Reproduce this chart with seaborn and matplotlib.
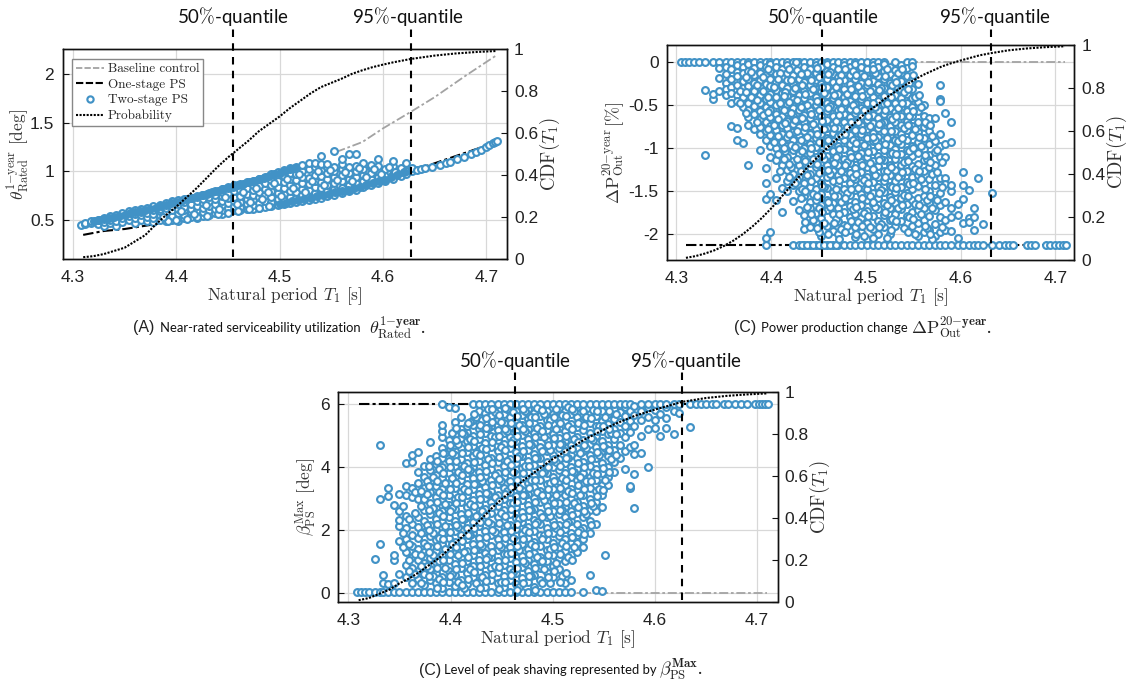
import matplotlib
matplotlib.use("Agg")
import matplotlib.pyplot as plt
import pandas as pd
import seaborn as sns

# Curvas
cdf_a_x = [4.31, 4.32, 4.33, 4.34, 4.35, 4.36, 4.37, 4.38, 4.39, 4.40, 4.41, 4.42, 4.43, 4.44, 4.45, 4.455, 4.46, 4.47, 4.48,
           4.49, 4.50, 4.51, 4.52, 4.53, 4.54, 4.55, 4.56, 4.57, 4.58, 4.59, 4.60, 4.61, 4.627, 4.65, 4.67, 4.69, 4.71]
cdf_a_y = [.01, .015, .025, .04, .055, .085, .115, .165, .21, .25, .295, .34, .39, .44, .485, .505, .525, .565, .61,
           .645, .68, .72, .755, .79, .82, .84, .86, .883, .90, .915, .927, .938, .954, .97, .98, .987, .992]
cdf_b_x = [4.31, 4.32, 4.33, 4.34, 4.35, 4.36, 4.37, 4.38, 4.39, 4.40, 4.41, 4.42, 4.43, 4.44, 4.454, 4.46, 4.47, 4.48, 4.49,
           4.50, 4.51, 4.52, 4.53, 4.54, 4.55, 4.56, 4.57, 4.58, 4.59, 4.60, 4.62, 4.632, 4.65, 4.67, 4.69, 4.71]
cdf_b_y = [.01, .018, .03, .045, .065, .09, .12, .155, .195, .24, .29, .34, .39, .44, .5, .525, .565, .605, .645,
           .685, .715, .75, .78, .81, .835, .86, .88, .9, .915, .928, .952, .962, .975, .984, .99, .994]
cdf_c_x = [4.31, 4.32, 4.33, 4.34, 4.35, 4.36, 4.37, 4.38, 4.39, 4.40, 4.41, 4.42, 4.43, 4.44, 4.45, 4.463, 4.47, 4.48, 4.49,
           4.50, 4.51, 4.52, 4.53, 4.54, 4.55, 4.56, 4.57, 4.58, 4.59, 4.60, 4.627, 4.65, 4.67, 4.69, 4.71]
cdf_c_y = [.01, .02, .04, .06, .09, .115, .145, .18, .215, .26, .305, .35, .395, .445, .49, .54, .575, .61, .645,
           .68, .71, .74, .77, .795, .82, .845, .865, .885, .9, .915, .952, .97, .98, .987, .992]

base_a_x = [4.555, 4.58, 4.60, 4.627, 4.65, 4.68, 4.71]
base_a_y = [1.20, 1.30, 1.44, 1.61, 1.76, 1.98, 2.19]
one_a_x = [4.31, 4.33, 4.35, 4.38, 4.40, 4.45, 4.50, 4.55, 4.60, 4.627, 4.71]
one_a_y = [0.35, 0.39, 0.41, 0.46, 0.50, 0.57, 0.66, 0.76, 0.90, 1.00, 1.30]
limite_x = [4.31, 4.71]
base_b_y = [0, 0]
one_b_y = [-2.12, -2.12]
base_c_y = [0, 0]
one_c_y = [6, 6]

quantis_a = [4.455, 4.627]
quantis_b = [4.454, 4.632]
quantis_c = [4.463, 4.627]

# Pontos Two-stage PS, coluna a coluna (T1, valores)
pontos_a = [
    (4.308, [.45]), (4.312, [.46, .47]), (4.318, [.47, .49]), (4.324, [.46, .50]), (4.33, [.44, .48, .52]),
    (4.336, [.47, .50, .54]), (4.342, [.44, .49, .55]), (4.348, [.48, .52, .57]), (4.354, [.50, .54, .59]),
    (4.36, [.47, .52, .56, .60]), (4.366, [.50, .55, .58, .62]), (4.372, [.49, .53, .57, .63]),
    (4.378, [.48, .52, .56, .60, .65]), (4.384, [.50, .55, .59, .62, .66]), (4.39, [.49, .53, .58, .63, .68]),
    (4.396, [.50, .54, .60, .65, .70]), (4.402, [.49, .52, .57, .62, .67, .71]), (4.408, [.52, .55, .60, .64, .69, .72]),
    (4.414, [.53, .58, .62, .67, .73]), (4.42, [.52, .55, .60, .65, .70, .75]), (4.426, [.54, .58, .63, .68, .72, .76]),
    (4.432, [.55, .60, .65, .70, .74, .78]), (4.438, [.57, .62, .67, .72, .76, .80]), (4.444, [.56, .60, .66, .70, .75, .79, .82]),
    (4.45, [.58, .63, .68, .73, .78, .84]), (4.456, [.60, .65, .70, .74, .80, .86]), (4.462, [.60, .64, .69, .75, .81, .87]),
    (4.468, [.62, .67, .72, .77, .83, .89]), (4.474, [.62, .66, .71, .76, .81, .86, .90]), (4.48, [.63, .68, .74, .79, .85, .92]),
    (4.486, [.64, .70, .76, .82, .88, .94]), (4.492, [.65, .69, .74, .80, .86, .91, .97]), (4.498, [.66, .72, .78, .84, .90, .99]),
    (4.504, [.67, .71, .77, .83, .89, .95, 1.01]), (4.51, [.68, .74, .80, .86, .92, .98, 1.03]), (4.516, [.69, .73, .79, .85, .91, .97, 1.05]),
    (4.522, [.70, .76, .82, .88, .94, 1.00, 1.07]), (4.528, [.71, .75, .81, .87, .93, 1.02, 1.09]), (4.534, [.72, .78, .84, .90, .96, 1.04, 1.085]),
    (4.54, [.73, .77, .83, .89, .95, 1.01, 1.08, 1.154]), (4.546, [.75, .80, .86, .92, .98, 1.04, 1.08]), (4.553, [.76, .82, .88, .94, 1.00, 1.05, 1.205]),
    (4.56, [.78, .83, .90, .96, 1.02, 1.08, 1.13]), (4.567, [.80, .86, .92, .98, 1.04, 1.18]), (4.574, [.81, .88, .94, 1.00, 1.06, 1.18]),
    (4.581, [.84, .90, .96, 1.02, 1.085]), (4.588, [.86, .92, .98, 1.05, 1.07]), (4.595, [.88, .94, 1.00, 1.06, 1.13]),
    (4.602, [.90, .95, 1.02]), (4.61, [.92, .97, 1.06, 1.11]), (4.617, [.95, .99, 1.03]), (4.622, [.97, 1.00, 1.09]),
    (4.628, [1.00, 1.03]), (4.633, [1.01]), (4.637, [1.02]), (4.641, [1.03]), (4.647, [1.05]), (4.655, [1.07]), (4.661, [1.09]),
    (4.665, [1.10]), (4.672, [1.13]), (4.678, [1.15]), (4.685, [1.18]), (4.69, [1.20]), (4.695, [1.22]), (4.70, [1.25]),
    (4.703, [1.27]), (4.706, [1.29]), (4.708, [1.30]), (4.71, [1.31]),
]

# Borda inferior da faixa do primeiro painel
borda_a = [
    (4.392, [.49]), (4.40, [.50]), (4.41, [.515]), (4.42, [.53]), (4.43, [.545]), (4.44, [.56]), (4.45, [.575]), (4.46, [.59]),
    (4.47, [.61]), (4.48, [.625]), (4.49, [.645]),
]

# Circulos soltos por cima das colunas do painel A
extra_a = [
    (4.387, [.53]), (4.405, [.59]), (4.417, [.56]), (4.429, [.66]), (4.441, [.62]), (4.447, [.74]), (4.459, [.67]), (4.465, [.79]),
    (4.471, [.69]), (4.477, [.83]), (4.483, [.72]), (4.489, [.79]), (4.495, [.88]), (4.501, [.75]), (4.507, [.92]), (4.513, [.83]),
    (4.519, [.97]), (4.525, [.79]), (4.531, [.90]), (4.537, [1.00]), (4.543, [.86]), (4.549, [1.01]), (4.556, [.91]), (4.563, [.99]),
    (4.57, [.90]), (4.577, [1.03]), (4.584, [.94]), (4.591, [1.02]), (4.598, [.97]), (4.606, [1.05]), (4.612, [.99]),
]

# Zonas do primeiro painel onde os circulos se acumulam ate ficar cheios
cheio_a = [
    (4.32, [.49]), (4.325, [.50]), (4.33, [.51]), (4.335, [.52]), (4.34, [.535]), (4.345, [.545]), (4.35, [.555]), (4.355, [.57]),
    (4.36, [.58]), (4.365, [.59]), (4.37, [.605]), (4.375, [.62]), (4.38, [.63]), (4.385, [.645]), (4.39, [.66]), (4.395, [.675]),
    (4.40, [.69]), (4.405, [.70]), (4.41, [.715]), (4.415, [.73]), (4.42, [.74]), (4.425, [.755]), (4.43, [.77]), (4.435, [.785]),
    (4.44, [.80]), (4.445, [.815]), (4.45, [.83]), (4.455, [.845]), (4.46, [.86]), (4.465, [.875]), (4.47, [.89]), (4.475, [.905]),
    (4.48, [.92]), (4.485, [.935]), (4.49, [.95]), (4.495, [.97]), (4.50, [.985]), (4.505, [1.0]), (4.51, [1.02]), (4.515, [1.035]),
    (4.50, [.67]), (4.506, [.68]), (4.512, [.695]), (4.518, [.705]), (4.524, [.72]), (4.53, [.73]), (4.536, [.745]), (4.542, [.755]),
    (4.548, [.77]), (4.554, [.785]), (4.56, [.795]), (4.566, [.81]), (4.572, [.825]), (4.578, [.845]), (4.584, [.86]), (4.59, [.88]),
    (4.596, [.90]), (4.602, [.915]), (4.608, [.94]), (4.614, [.96]), (4.62, [.99]),
]

pontos_b = [
    (4.305, [0]), (4.309, [0]), (4.313, [0]), (4.318, [0]), (4.324, [0]), (4.33, [0, -.32, -1.08]), (4.339, [0, -.43, -.37]),
    (4.345, [0, -.07, -.18, -.33]), (4.352, [0, -.05, -.14, -.24, -.31, -.38]), (4.358, [0, -.08, -.2, -.29, -.36, -.47, -.74]),
    (4.364, [0, -.03, -.11, -.16, -.26, -.38, -.45, -.9, -.77]), (4.37, [0, -.06, -.13, -.22, -.3, -.4, -.52, -.94]),
    (4.376, [0, -.02, -.1, -.19, -.28, -.36, -.47, -.56, -.64, -.73, -1.19]), (4.382, [0, -.07, -.15, -.24, -.33, -.42, -.51, -.6, -.78]),
    (4.388, [0, -.03, -.12, -.21, -.29, -.38, -.47, -.57, -.66, -.75, -.83, -1.02]),
    (4.394, [0, -.06, -.15, -.25, -.33, -.43, -.52, -.61, -.7, -.8, -.9, -1.23, -1.4, -1.59, -2.04, -2.12]),
    (4.399, [0, -.02, -.1, -.19, -.28, -.37, -.46, -.55, -.64, -.74, -.85, -.97, -1.1, -1.53, -1.98]),
    (4.405, [0, -.05, -.14, -.23, -.32, -.41, -.5, -.6, -.69, -.79, -.88, -1.0, -1.14, -1.35, -1.6]),
    (4.411, [0, -.08, -.17, -.27, -.36, -.45, -.54, -.63, -.73, -.83, -.93, -1.05, -1.2, -1.46, -1.74]),
    (4.417, [0, -.03, -.12, -.21, -.3, -.39, -.49, -.58, -.68, -.77, -.87, -.98, -1.1, -1.25, -1.38, -1.5]),
    (4.423, [0, -.06, -.15, -.25, -.34, -.43, -.53, -.62, -.72, -.81, -.91, -1.02, -1.15, -1.3, -1.43, -1.61, -2.12]),
    (4.429, [0, -.02, -.1, -.19, -.28, -.38, -.47, -.56, -.66, -.75, -.85, -.95, -1.07, -1.2, -1.34, -1.5, -1.72, -2.12]),
    (4.435, [0, -.05, -.14, -.23, -.33, -.42, -.51, -.61, -.7, -.8, -.9, -1.0, -1.12, -1.25, -1.4, -1.56, -1.78, -1.94, -2.12]),
    (4.441, [0, -.08, -.17, -.27, -.36, -.46, -.55, -.65, -.74, -.84, -.95, -1.06, -1.17, -1.3, -1.45, -1.62, -1.7, -1.92, -2.12]),
    (4.447, [0, -.03, -.12, -.21, -.31, -.4, -.5, -.59, -.69, -.78, -.88, -.99, -1.1, -1.22, -1.35, -1.48, -1.6, -1.75, -1.86, -2.12]),
    (4.453, [0, -.06, -.15, -.25, -.34, -.44, -.53, -.63, -.73, -.83, -.94, -1.05, -1.16, -1.27, -1.4, -1.53, -1.66, -1.81, -2.02, -2.12]),
    (4.459, [0, -.02, -.1, -.19, -.29, -.38, -.48, -.57, -.67, -.77, -.88, -.98, -1.09, -1.2, -1.33, -1.46, -1.6, -1.72, -1.9, -2.12]),
    (4.465, [0, -.05, -.14, -.23, -.33, -.42, -.52, -.62, -.72, -.82, -.92, -1.03, -1.14, -1.26, -1.38, -1.51, -1.64, -1.77, -1.96, -2.12]),
    (4.471, [0, -.08, -.17, -.27, -.37, -.46, -.56, -.66, -.76, -.86, -.97, -1.08, -1.19, -1.31, -1.43, -1.56, -1.69, -1.85, -2.0, -2.12]),
    (4.477, [0, -.03, -.12, -.21, -.31, -.41, -.5, -.6, -.7, -.8, -.9, -1.01, -1.12, -1.23, -1.35, -1.48, -1.61, -1.74, -1.89, -2.12]),
    (4.483, [0, -.06, -.15, -.25, -.35, -.45, -.54, -.64, -.74, -.85, -.95, -1.06, -1.17, -1.29, -1.41, -1.54, -1.67, -1.8, -1.95, -2.12]),
    (4.489, [0, -.02, -.1, -.2, -.29, -.39, -.49, -.59, -.69, -.79, -.89, -1.0, -1.11, -1.23, -1.36, -1.49, -1.62, -1.76, -1.92, -2.03, -2.12]),
    (4.495, [0, -.05, -.14, -.24, -.33, -.43, -.53, -.63, -.73, -.84, -.94, -1.05, -1.16, -1.28, -1.4, -1.53, -1.66, -1.81, -1.98, -2.12]),
    (4.501, [0, -.08, -.18, -.27, -.37, -.47, -.57, -.67, -.78, -.88, -.99, -1.1, -1.22, -1.34, -1.47, -1.6, -1.73, -1.87, -2.05, -2.12]),
    (4.507, [0, -.03, -.12, -.22, -.31, -.41, -.51, -.61, -.71, -.82, -.92, -1.03, -1.15, -1.27, -1.39, -1.52, -1.65, -1.79, -1.94, -2.12]),
    (4.513, [0, -.06, -.16, -.25, -.35, -.45, -.55, -.65, -.76, -.87, -.98, -1.09, -1.21, -1.33, -1.45, -1.58, -1.71, -1.85, -2.0, -2.12]),
    (4.519, [0, -.02, -.1, -.2, -.3, -.39, -.49, -.6, -.7, -.8, -.91, -1.02, -1.14, -1.26, -1.38, -1.51, -1.64, -1.78, -1.92, -2.12]),
    (4.525, [-.05, -.14, -.24, -.33, -.43, -.53, -.64, -.74, -.85, -.96, -1.07, -1.19, -1.31, -1.44, -1.57, -1.7, -1.84, -2.0, -2.12]),
    (4.531, [0, -.09, -.18, -.28, -.38, -.48, -.58, -.69, -.8, -.9, -1.01, -1.13, -1.25, -1.38, -1.51, -1.64, -1.77, -1.9, -2.12]),
    (4.537, [-.03, -.12, -.22, -.32, -.42, -.52, -.63, -.73, -.84, -.95, -1.07, -1.19, -1.32, -1.45, -1.58, -1.71, -1.85, -2.12]),
    (4.543, [0, -.07, -.16, -.26, -.37, -.47, -.57, -.68, -.79, -.9, -1.02, -1.14, -1.26, -1.39, -1.52, -1.65, -1.79, -1.95, -2.12]),
    (4.549, [0, -.04, -.2, -.31, -.42, -.52, -.63, -.74, -.85, -.97, -1.09, -1.21, -1.34, -1.47, -1.6, -1.74, -1.9, -2.12]),
    (4.555, [-.25, -.46, -.57, -.69, -.81, -.93, -1.05, -1.18, -1.31, -1.44, -1.58, -1.72, -1.87, -2.02, -2.12]),
    (4.561, [-.5, -.62, -.75, -.88, -1.01, -1.14, -1.27, -1.41, -1.55, -1.69, -1.83, -1.98, -2.12]),
    (4.567, [-.65, -.8, -.95, -1.08, -1.22, -1.36, -1.5, -1.64, -1.79, -1.95, -2.12]),
    (4.573, [-.65, -.92, -1.04, -1.2, -1.43, -1.58, -1.72, -1.88, -2.02, -2.12]),
    (4.578, [-.27, -.43, -.45, -.84, -.98, -1.1, -1.35, -1.52, -1.66, -1.8, -1.98, -2.12]),
    (4.583, [-.59, -.95, -1.1, -1.35, -1.42, -1.63, -1.84, -1.95, -2.12]),
    (4.59, [-.7, -.93, -1.5, -1.43, -1.7, -1.8, -1.96, -2.12]),
    (4.597, [-1.65, -1.78, -2.04, -2.12]), (4.602, [-1.28, -1.43, -1.59, -1.87, -2.12]), (4.609, [-1.49, -1.81, -1.86, -2.12]),
    (4.614, [-1.7, -1.8, -1.95, -2.12]), (4.618, [-1.35, -2.12]), (4.624, [-1.88, -2.12]), (4.633, [-1.52, -2.12]), (4.64, [-2.12]),
    (4.647, [-2.12]), (4.651, [-2.12]), (4.655, [-2.12]), (4.67, [-2.12]), (4.674, [-2.12]), (4.679, [-2.12]), (4.69, [-2.12]),
    (4.694, [-2.12]), (4.70, [-2.12]), (4.704, [-2.12]), (4.708, [-2.12]), (4.711, [-2.12]),
]

# Segunda camada do painel B, para os pontos fora das colunas
extra_b = [
    (4.367, [-.33, -.48]), (4.379, [-.11, -.41]), (4.391, [-.17, -.34, -.61]), (4.403, [-.29, -.73, -.93]), (4.409, [-.12, -.48, -1.27]),
    (4.415, [-.35, -.71, -1.03]), (4.421, [-.21, -.59, -.96, -1.22]), (4.427, [-.09, -.44, -.8, -1.12, -1.37]),
    (4.433, [-.26, -.65, -1.03, -1.47]), (4.438, [-.12, -.5, -.87, -1.31, -1.68]), (4.444, [-.31, -.72, -1.12, -1.53, -1.83]),
    (4.45, [-.17, -.56, -.93, -1.29, -1.69, -1.98]), (4.456, [-.36, -.78, -1.13, -1.45, -1.87]), (4.462, [-.11, -.51, -.94, -1.3, -1.68]),
    (4.468, [-.29, -.68, -1.1, -1.47, -1.82]), (4.474, [-.15, -.54, -.85, -1.27, -1.63, -1.94]), (4.48, [-.37, -.75, -1.16, -1.52, -1.9]),
    (4.486, [-.1, -.5, -.91, -1.33, -1.71]), (4.492, [-.28, -.69, -1.09, -1.46, -1.86]), (4.498, [-.16, -.56, -.96, -1.37, -1.75, -2.02]),
    (4.504, [-.34, -.74, -1.17, -1.55, -1.92]), (4.51, [-.12, -.52, -.9, -1.31, -1.68]), (4.516, [-.3, -.71, -1.12, -1.49, -1.88]),
    (4.522, [-.08, -.48, -.88, -1.26, -1.66, -2.04]), (4.528, [-.27, -.66, -1.05, -1.45, -1.82]), (4.534, [-.13, -.53, -.92, -1.33, -1.7]),
    (4.54, [-.35, -.76, -1.16, -1.54, -1.93]), (4.546, [-.24, -.62, -1.03, -1.42, -1.8]), (4.552, [-.4, -.78, -1.24, -1.65, -2.0]),
    (4.558, [-.52, -.97, -1.36, -1.77]), (4.564, [-.72, -1.12, -1.6, -1.93]), (4.57, [-.86, -1.3, -1.7, -2.06]), (4.58, [-1.16, -1.45, -1.92]),
    (4.426, [0]), (4.432, [-2.12]), (4.438, [-2.12]), (4.444, [-2.12]), (4.45, [-2.12]), (4.456, [-2.12]), (4.462, [-2.12]), (4.468, [-2.12]),
]

# Terceira camada do painel B
mais_b = [
    (4.373, [-.17, -.35, -.59]), (4.385, [-.27, -.44, -.7]), (4.397, [-.08, -.41, -.58, -.78]), (4.407, [-.2, -.66, -.86, -1.07]),
    (4.413, [-.39, -.56, -1.0, -1.12]), (4.419, [-.08, -.46, -.83, -1.18, -1.34]), (4.425, [-.3, -.67, -.99, -1.41]),
    (4.431, [-.14, -.52, -.9, -1.26, -1.58]), (4.436, [-.37, -.75, -1.15, -1.5, -1.86]), (4.442, [-.21, -.6, -1.0, -1.38, -1.77]),
    (4.448, [-.07, -.45, -.83, -1.18, -1.56, -1.93]), (4.454, [-.29, -.68, -1.08, -1.44, -1.74]), (4.46, [-.14, -.53, -.9, -1.25, -1.63, -2.0]),
    (4.466, [-.38, -.77, -1.17, -1.55, -1.87]), (4.472, [-.22, -.61, -1.01, -1.37, -1.76, -2.05]), (4.478, [-.08, -.46, -.84, -1.2, -1.58, -1.97]),
    (4.484, [-.31, -.69, -1.1, -1.47, -1.85]), (4.49, [-.15, -.55, -.94, -1.3, -1.68, -2.0]), (4.496, [-.39, -.79, -1.2, -1.58, -1.9]),
    (4.502, [-.23, -.62, -1.04, -1.41, -1.79]), (4.508, [-.08, -.47, -.87, -1.24, -1.62, -2.04]), (4.514, [-.32, -.72, -1.14, -1.52, -1.92]),
    (4.52, [-.16, -.55, -.95, -1.34, -1.74]), (4.526, [-.4, -.8, -1.22, -1.6, -1.95]), (4.532, [-.23, -.63, -1.07, -1.46, -1.85]),
    (4.538, [-.08, -.47, -.88, -1.28, -1.66]), (4.544, [-.31, -.73, -1.15, -1.56, -1.98]), (4.55, [-.15, -.57, -1.0, -1.41, -1.82]),
    (4.556, [-.38, -.87, -1.26, -1.66]), (4.562, [-.7, -1.08, -1.48, -1.9]), (4.568, [-.73, -1.16, -1.55, -2.0]), (4.575, [-1.02, -1.28, -1.6]),
]

pontos_c = [
    (4.308, [.02]), (4.312, [.02]), (4.316, [.02]), (4.32, [.02]), (4.326, [.02, 1.09]), (4.331, [.02, 1.55, 2.99, 4.71]),
    (4.334, [.02, .58, .3]), (4.339, [.02, .28, 3.07, 3.33]), (4.345, [.02, .3, 1.03, 1.22, 2.8]), (4.35, [.02, .6, 1.65, 2.12, 2.33, 2.6, 3.15]),
    (4.356, [.02, .52, .9, 1.3, 1.7, 2.05, 2.45, 3.1, 3.4, 4.13]), (4.362, [.02, .3, .8, 1.15, 1.5, 1.85, 2.2, 3.05, 3.35, 4.15, 4.39]),
    (4.368, [.02, .45, .7, 1.05, 1.4, 1.75, 2.1, 2.4, 3.0, 3.5, 3.85, 4.47]),
    (4.374, [.02, .25, .6, .95, 1.3, 1.6, 1.95, 2.3, 2.65, 3.0, 3.35, 3.7, 4.05]),
    (4.38, [.02, .4, .75, 1.1, 1.45, 1.8, 2.15, 2.5, 2.85, 3.2, 3.55, 3.9, 4.25, 4.81]),
    (4.386, [.02, .3, .62, .98, 1.32, 1.68, 2.0, 2.35, 2.7, 3.05, 3.4, 3.75, 4.1, 4.35]),
    (4.392, [.02, .15, .5, .85, 1.2, 1.55, 1.9, 2.25, 2.6, 2.95, 3.3, 3.65, 4.0, 4.3, 4.6, 4.95, 5.15, 5.34, 6.0]),
    (4.398, [.02, .35, .7, 1.05, 1.4, 1.75, 2.08, 2.42, 2.78, 3.12, 3.48, 3.82, 4.18, 4.5, 4.85, 5.92]),
    (4.404, [.02, .22, .58, .92, 1.26, 1.62, 1.96, 2.3, 2.66, 3.0, 3.35, 3.7, 4.04, 4.38, 4.7, 5.02, 5.43, 5.87]),
    (4.41, [.02, .42, .78, 1.12, 1.48, 1.84, 2.18, 2.52, 2.88, 3.22, 3.58, 3.92, 4.26, 4.6, 4.92, 5.22, 5.58]),
    (4.416, [.02, .28, .64, 1.0, 1.34, 1.7, 2.05, 2.4, 2.74, 3.1, 3.45, 3.8, 4.14, 4.48, 4.82, 5.12, 5.3]),
    (4.422, [.02, .5, .86, 1.2, 1.55, 1.9, 2.25, 2.6, 2.95, 3.3, 3.64, 4.0, 4.34, 4.68, 5.0, 5.34, 5.5, 6.0]),
    (4.428, [.02, .34, .7, 1.06, 1.4, 1.76, 2.12, 2.46, 2.82, 3.16, 3.5, 3.86, 4.2, 4.55, 4.9, 5.2, 5.6, 5.8, 6.0]),
    (4.434, [.02, .2, .56, .92, 1.28, 1.62, 1.98, 2.32, 2.68, 3.02, 3.38, 3.72, 4.08, 4.42, 4.76, 5.1, 5.42, 5.72, 6.0]),
    (4.44, [.02, .42, .78, 1.14, 1.5, 1.84, 2.2, 2.54, 2.9, 3.24, 3.6, 3.94, 4.3, 4.64, 4.98, 5.3, 5.62, 6.0]),
    (4.446, [.02, .3, .66, 1.0, 1.36, 1.72, 2.06, 2.42, 2.76, 3.12, 3.46, 3.82, 4.16, 4.52, 4.86, 5.18, 5.5, 5.82, 6.0]),
    (4.452, [.02, .18, .54, .9, 1.24, 1.6, 1.94, 2.3, 2.64, 3.0, 3.34, 3.7, 4.04, 4.4, 4.74, 5.08, 5.4, 5.7, 6.0]),
    (4.458, [.02, .4, .76, 1.1, 1.46, 1.82, 2.16, 2.52, 2.86, 3.22, 3.56, 3.92, 4.26, 4.62, 4.96, 5.28, 5.6, 5.9, 6.0]),
    (4.464, [.02, .28, .62, .98, 1.34, 1.68, 2.04, 2.38, 2.74, 3.08, 3.44, 3.78, 4.14, 4.48, 4.84, 5.16, 5.48, 5.78, 6.0]),
    (4.47, [.02, .46, .82, 1.18, 1.54, 1.88, 2.24, 2.58, 2.94, 3.28, 3.64, 3.98, 4.34, 4.68, 5.02, 5.34, 5.66, 6.0]),
    (4.476, [.02, .34, .7, 1.04, 1.4, 1.76, 2.1, 2.46, 2.8, 3.16, 3.5, 3.86, 4.2, 4.56, 4.9, 5.22, 5.54, 5.84, 6.0]),
    (4.482, [.02, .2, .58, .92, 1.28, 1.62, 1.98, 2.32, 2.68, 3.02, 3.38, 3.72, 4.08, 4.42, 4.78, 5.1, 5.42, 5.72, 6.0]),
    (4.488, [.02, .42, .78, 1.14, 1.48, 1.84, 2.18, 2.54, 2.88, 3.24, 3.58, 3.94, 4.28, 4.64, 4.98, 5.3, 5.62, 5.92, 6.0]),
    (4.494, [.02, .66, 1.0, 1.36, 1.7, 2.06, 2.4, 2.76, 3.1, 3.46, 3.8, 4.16, 4.5, 4.86, 5.18, 5.5, 5.8, 6.0]),
    (4.5, [.02, .5, .86, 1.22, 1.58, 1.92, 2.28, 2.62, 2.98, 3.32, 3.68, 4.02, 4.38, 4.72, 5.06, 5.38, 5.7, 6.0]),
    (4.506, [.02, .77, 1.1, 1.46, 1.8, 2.16, 2.5, 2.86, 3.2, 3.56, 3.9, 4.26, 4.6, 4.94, 5.26, 5.58, 5.88, 6.0]),
    (4.512, [.02, .3, 1.0, 1.34, 1.7, 2.04, 2.4, 2.74, 3.1, 3.44, 3.8, 4.14, 4.5, 4.84, 5.16, 5.48, 5.78, 6.0]),
    (4.518, [.02, .42, 1.22, 1.58, 1.92, 2.28, 2.62, 2.98, 3.32, 3.68, 4.02, 4.38, 4.72, 5.06, 5.38, 5.7, 6.0]),
    (4.524, [1.3, 1.6, 1.84, 2.18, 2.54, 2.88, 3.24, 3.58, 3.94, 4.28, 4.62, 4.96, 5.28, 5.6, 5.9, 6.0]),
    (4.53, [.02, 1.45, 1.7, 2.06, 2.4, 2.76, 3.12, 3.46, 3.82, 4.16, 4.52, 4.86, 5.18, 5.5, 5.8, 6.0]),
    (4.536, [.58, 1.9, 2.3, 2.64, 3.0, 3.34, 3.7, 4.04, 4.4, 4.74, 5.08, 5.4, 5.7, 6.0]),
    (4.542, [.1, 2.19, 2.6, 2.9, 3.24, 3.6, 3.94, 4.28, 4.64, 4.98, 5.3, 5.62, 5.92, 6.0]),
    (4.548, [.05, 2.73, 3.1, 3.44, 3.8, 4.14, 4.5, 4.84, 5.16, 5.48, 5.78, 6.0]),
    (4.551, [1.19]), (4.554, [3.42, 3.7, 4.0, 4.36, 4.7, 5.04, 5.36, 5.68, 6.0]),
    (4.56, [3.85, 4.15, 4.55, 4.9, 5.22, 5.54, 5.84, 6.0]), (4.566, [4.3, 4.72, 5.1, 5.44, 5.74, 6.0]),
    (4.571, [3.95, 4.5, 4.95, 5.3, 5.62, 5.92, 6.0]), (4.576, [3.33, 3.39, 4.65, 5.12, 5.48, 5.8, 6.0]),
    (4.58, [2.7, 3.78, 4.42, 4.7, 5.3, 5.66, 5.95]), (4.586, [4.45, 5.0, 5.5, 5.8, 6.0]), (4.593, [4.02, 5.2, 5.6, 5.9, 6.0]),
    (4.6, [5.24, 5.5, 5.82, 6.0]), (4.605, [5.0, 5.7, 6.0]), (4.611, [5.25, 5.55, 5.9, 6.0]), (4.619, [5.06, 5.8, 6.0]),
    (4.624, [5.71, 6.0]), (4.634, [5.29, 6.0]), (4.64, [6.0]), (4.645, [6.0]), (4.65, [6.0]), (4.656, [6.0]), (4.66, [6.0]),
    (4.668, [6.0]), (4.672, [6.0]), (4.678, [6.0]), (4.684, [6.0]), (4.69, [6.0]), (4.698, [6.0]), (4.702, [6.0]), (4.705, [6.0]),
    (4.708, [6.0]), (4.711, [6.0]),
]

# Segunda camada do painel C
extra_c = [
    (4.353, [1.45, 1.9, 2.75]), (4.365, [.6, 1.25, 2.55, 3.2]), (4.377, [.85, 1.48, 2.15, 3.15, 3.55]), (4.383, [.55, 1.2, 1.9, 2.7, 3.7]),
    (4.389, [.45, 1.0, 1.75, 2.55, 3.2, 3.95]), (4.395, [.8, 1.4, 2.12, 2.82, 3.5, 4.45]), (4.401, [.6, 1.55, 2.7, 3.65, 4.45, 5.1]),
    (4.407, [.35, 1.2, 2.1, 3.05, 3.85, 4.75]), (4.413, [.15, 1.3, 2.35, 3.3, 4.05, 5.05]), (4.419, [.75, 1.83, 2.83, 3.9, 4.9, 5.45]),
    (4.425, [.3, 1.4, 2.45, 3.45, 4.45, 5.6]), (4.431, [.5, 1.5, 2.6, 3.55, 4.6, 5.5]), (4.437, [1.15, 2.25, 3.15, 4.25, 5.25, 5.85]),
    (4.443, [.85, 1.95, 3.05, 3.75, 4.95, 5.75]), (4.449, [.35, 1.45, 2.55, 3.55, 4.65, 5.45]), (4.455, [1.25, 2.15, 3.25, 4.2, 5.15, 5.85]),
    (4.461, [.65, 1.75, 2.85, 3.85, 4.85, 5.75]), (4.467, [.18, 1.35, 2.35, 3.35, 4.35, 5.35]), (4.473, [.95, 2.0, 3.1, 4.05, 5.15, 5.8]),
    (4.479, [.55, 1.55, 2.65, 3.6, 4.7, 5.6]), (4.485, [1.15, 2.25, 3.2, 4.3, 5.25, 5.88]), (4.491, [.75, 1.85, 2.95, 3.85, 4.95, 5.7]),
    (4.497, [.3, 1.4, 2.45, 3.5, 4.55, 5.5]), (4.503, [.95, 2.05, 3.1, 4.15, 5.2, 5.85]), (4.509, [.55, 1.6, 2.65, 3.65, 4.75, 5.65]),
    (4.515, [1.15, 2.25, 3.25, 4.3, 5.32, 5.9]), (4.521, [1.45, 2.85, 3.85, 4.9, 5.8]), (4.527, [2.0, 3.1, 3.7, 4.45, 5.45]),
    (4.533, [2.5, 3.55, 4.6, 5.6]), (4.539, [2.75, 3.8, 4.85, 5.82]), (4.545, [3.3, 4.4, 5.3]), (4.551, [3.6, 4.6, 5.6]), (4.557, [4.25, 5.1]),
]

# Terceira camada do painel C
mais_c = [
    (4.359, [.7, 1.05, 1.55, 2.35]), (4.371, [.3, .85, 1.2, 1.9, 2.75, 3.25]), (4.379, [.55, 1.3, 2.0, 2.65, 3.4, 4.05]),
    (4.387, [.15, .8, 1.5, 2.2, 2.9, 3.55, 4.2]), (4.393, [.35, 1.05, 1.7, 2.45, 3.1, 3.8, 4.45]), (4.399, [.55, 1.25, 1.95, 2.6, 3.3, 4.0, 4.7]),
    (4.405, [.75, 1.45, 2.15, 2.85, 3.5, 4.2, 4.85, 5.25]), (4.411, [.25, .95, 1.65, 2.35, 3.05, 3.75, 4.45, 5.1]),
    (4.417, [.45, 1.15, 1.85, 2.55, 3.25, 3.95, 4.65, 5.4]), (4.423, [.65, 1.35, 2.05, 2.75, 3.45, 4.15, 4.82, 5.7]),
    (4.429, [.15, .85, 1.55, 2.25, 2.98, 3.68, 4.38, 5.05, 5.35]), (4.435, [.38, 1.08, 1.78, 2.48, 3.18, 3.88, 4.58, 5.25, 5.55]),
    (4.441, [.6, 1.3, 2.0, 2.72, 3.42, 4.12, 4.8, 5.45, 5.85]), (4.447, [.12, .82, 1.52, 2.22, 2.92, 3.62, 4.32, 5.0, 5.65]),
    (4.453, [.35, 1.05, 1.75, 2.45, 3.15, 3.85, 4.55, 5.22, 5.88]), (4.459, [.58, 1.28, 1.98, 2.68, 3.38, 4.08, 4.78, 5.42]),
    (4.465, [.1, .8, 1.5, 2.2, 2.9, 3.6, 4.3, 5.0, 5.62]), (4.471, [.32, 1.02, 1.72, 2.42, 3.12, 3.82, 4.52, 5.2, 5.85]),
    (4.477, [.55, 1.25, 1.95, 2.65, 3.35, 4.05, 4.75, 5.4]), (4.483, [.08, .78, 1.48, 2.18, 2.88, 3.58, 4.28, 4.95, 5.6]),
    (4.489, [.3, 1.0, 1.7, 2.4, 3.1, 3.8, 4.5, 5.15, 5.82]), (4.495, [.5, 1.22, 1.92, 2.62, 3.32, 4.02, 4.72, 5.35]),
    (4.501, [.7, 1.45, 2.15, 2.85, 3.55, 4.25, 4.92, 5.58]), (4.507, [.35, 1.25, 1.95, 2.65, 3.35, 4.05, 4.75, 5.4]),
    (4.513, [.62, 1.5, 2.2, 2.9, 3.6, 4.3, 4.98, 5.62]), (4.519, [1.05, 1.78, 2.48, 3.18, 3.88, 4.58, 5.22, 5.85]),
    (4.525, [1.95, 2.72, 3.42, 4.12, 4.8, 5.42]), (4.531, [1.88, 2.6, 3.3, 4.0, 4.7, 5.35]), (4.537, [2.15, 2.85, 3.55, 4.25, 4.92, 5.55]),
    (4.543, [3.08, 3.78, 4.48, 5.15, 5.78]), (4.549, [3.28, 3.98, 4.68, 5.32]), (4.555, [3.85, 4.55, 5.2, 5.8]), (4.562, [4.4, 5.05, 5.7]),
]

xticks = [4.3, 4.4, 4.5, 4.6, 4.7]
xtick_labels = ["4.3", "4.4", "4.5", "4.6", "4.7"]
cdf_ticks = [0, 0.2, 0.4, 0.6, 0.8, 1]
cdf_labels = ["0", "0.2", "0.4", "0.6", "0.8", "1"]

LARGURA, ALTURA = 1137, 687
AZUL = "#4192c6"
CINZA = "#a3a3a3"
TRACO = (0, (5, 1.5, 1.5, 1.5))

sns.set_theme(style="whitegrid")
plt.rcParams["font.family"] = ["Liberation Sans", "DejaVu Sans"]
plt.rcParams["mathtext.fontset"] = "cm"
plt.rcParams["axes.unicode_minus"] = False

fig = plt.figure(figsize=(LARGURA / 100, ALTURA / 100), dpi=100)


def para_tabela(colunas):
    xs, ys = [], []
    for x, valores in colunas:
        for v in valores:
            xs.append(x)
            ys.append(v)
    return pd.DataFrame({"T1": xs, "valor": ys})


def painel(caixa, ylim, yticks, ylabels, ylabel, tam_ylabel, pontos, base, one, cdf, quantis, v0, v1, x_texto, y_texto, x_ylabel):
    esq, dir, topo, baixo = caixa
    ax = fig.add_axes([esq / LARGURA, 1 - baixo / ALTURA, (dir - esq) / LARGURA, (baixo - topo) / ALTURA])
    sns.lineplot(x=base[0], y=base[1], ax=ax, color=CINZA, lw=1.3, linestyle=TRACO, errorbar=None)
    sns.lineplot(x=one[0], y=one[1], ax=ax, color="black", lw=1.5, linestyle=TRACO, errorbar=None)
    sns.scatterplot(data=para_tabela(pontos), x="T1", y="valor", ax=ax, s=24, color="white",
                    edgecolor=AZUL, linewidth=1.55, marker="o", zorder=3)
    ax.set_xlim(4.29, 4.72)
    ax.set_ylim(*ylim)
    ax.set_xticks(xticks)
    ax.set_xticklabels(xtick_labels)
    ax.set_yticks(yticks)
    ax.set_yticklabels(ylabels)
    ax.set_xlabel("Natural period $T_1$ [s]", family="cmr10", fontsize=12.4, color="#333333", va="center")
    ax.xaxis.set_label_coords(0.5, -37 / (baixo - topo))
    ax.set_ylabel(ylabel, family="cmr10", fontsize=tam_ylabel, color="#333333", va="center")
    ax.yaxis.set_label_coords((x_ylabel - esq) / (dir - esq), 0.5)
    ax.grid(True, color="#d8d8d8", lw=0.9)
    ax.tick_params(axis="x", direction="in", length=3, width=0.8, labelsize=12.5, color="#111111",
                   labelcolor="#222222", pad=8)
    ax.tick_params(axis="y", direction="in", length=4, width=0.8, labelsize=12.5, color="#111111",
                   labelcolor="#222222", pad=6)

    ax2 = ax.twinx()
    sns.lineplot(x=cdf[0], y=cdf[1], ax=ax2, color="black", lw=1.5, linestyle=(0, (1, 0.7)), errorbar=None)
    ax2.set_ylim(0, 1)
    ax2.set_yticks(cdf_ticks)
    ax2.set_yticklabels(cdf_labels)
    ax2.set_ylabel("CDF($T_1$)", family="cmr10", fontsize=13.5, color="#333333", va="center")
    ax2.yaxis.set_label_coords(1 + 42.5 / (dir - esq), 0.5)
    ax2.grid(False)
    ax2.tick_params(axis="y", direction="in", length=4, width=0.8, labelsize=12.5, color="#111111",
                    labelcolor="#222222", pad=5)
    for a in [ax, ax2]:
        for s in a.spines.values():
            s.set_color("#111111")
            s.set_linewidth(1.0)
    for q, xt, nome in zip(quantis, x_texto, ["50", "95"]):
        ax2.axvline(q, v0, v1, color="black", lw=1.5, linestyle=(0, (3.6, 3.0)), clip_on=False, zorder=5)
        fig.text(xt / LARGURA, 1 - y_texto / ALTURA, nome + r"$\%$-quantile", family="Lato", fontsize=13.5,
                 ha="center", va="center", color="#111111")
    return ax, ax2


ax_a, ax_a2 = painel((62.5, 507, 49.3, 259.3), (0.1, 2.25), [0.5, 1, 1.5, 2], ["0.5", "1", "1.5", "2"],
                     r"$\theta^{\mathrm{1{-}year}}_{\mathrm{Rated}}$ [deg]", 12.5, pontos_a + borda_a + extra_a,
                     (base_a_x, base_a_y), (one_a_x, one_a_y), (cdf_a_x, cdf_a_y), quantis_a, 0.01, 1.107,
                     (233, 407.5), 17, 18)
sns.scatterplot(data=para_tabela(cheio_a), x="T1", y="valor", ax=ax_a, s=42, color=AZUL, linewidth=0, marker="o", zorder=4)
painel((667, 1074.3, 45, 260), (-2.3, 0.2), [-2, -1.5, -1, -0.5, 0], ["-2", "-1.5", "-1", "-0.5", "0"],
       r"$\Delta\mathrm{P}^{\mathrm{20{-}year}}_{\mathrm{Out}}\,[\%]$", 13, pontos_b + extra_b + mais_b,
       (limite_x, base_b_y), (limite_x, one_b_y), (cdf_b_x, cdf_b_y), quantis_b, 0.013, 1.085, (822.7, 995), 17, 614)
painel((338.2, 777.5, 391.7, 602.3), (-0.3, 6.4), [0, 2, 4, 6], ["0", "2", "4", "6"],
       r"$\beta^{\mathrm{Max}}_{\mathrm{PS}}$ [deg]", 12.5, pontos_c + extra_c + mais_c,
       (limite_x, base_c_y), (limite_x, one_c_y), (cdf_c_x, cdf_c_y), quantis_c, 0.011, 1.103, (514.8, 686), 360, 306)

# Legenda do primeiro painel
h = [
    plt.Line2D([], [], color=CINZA, lw=1.3, linestyle=(0, (3.5, 1.2))),
    plt.Line2D([], [], color="black", lw=1.5, linestyle=(0, (3.5, 1.2))),
    plt.Line2D([], [], color=AZUL, marker="o", mfc="white", mew=1.55, ms=4.5, lw=0),
    plt.Line2D([], [], color="black", lw=1.5, linestyle=(0, (1, 0.7))),
]
leg = ax_a2.legend(h, ["Baseline control", "One-stage PS", "Two-stage PS", "Probability"],
                   loc="upper left", bbox_to_anchor=(0.0214, 0.954), borderaxespad=0, fancybox=False, framealpha=1,
                   edgecolor="#888888", prop={"family": "cmr10", "size": 9.5}, handlelength=2.1, labelspacing=0.25,
                   handletextpad=0.3, borderpad=0.3)
leg.get_frame().set_linewidth(1.0)

# Legendas das figuras
legendas = [
    (133, 160, 369, 328, "(A)", "Near-rated serviceability utilization",
     r"$\theta^{\mathbf{1{-}year}}_{\mathrm{Rated}}$."),
    (734, 761, 911, 328, "(C)", "Power production change",
     r"$\Delta\mathrm{P}^{\mathbf{20{-}year}}_{\mathrm{Out}}$."),
    (418.6, 444, 659, 670, "(C)", "Level of peak shaving represented by",
     r"$\beta^{\mathbf{Max}}_{\mathrm{PS}}$."),
]
for x0, x1, x2, y, letra, texto, formula in legendas:
    fig.text(x0 / LARGURA, 1 - y / ALTURA, letra, fontsize=11.5, ha="left", va="center", color="#222222")
    fig.text(x1 / LARGURA, 1 - y / ALTURA, texto, family="Lato", fontsize=9.4, ha="left", va="center", color="#111111")
    fig.text(x2 / LARGURA, 1 - y / ALTURA, formula, family="Lato", fontsize=13, ha="left", va="center", color="#222222")

fig.savefig("out.png", dpi=100)
